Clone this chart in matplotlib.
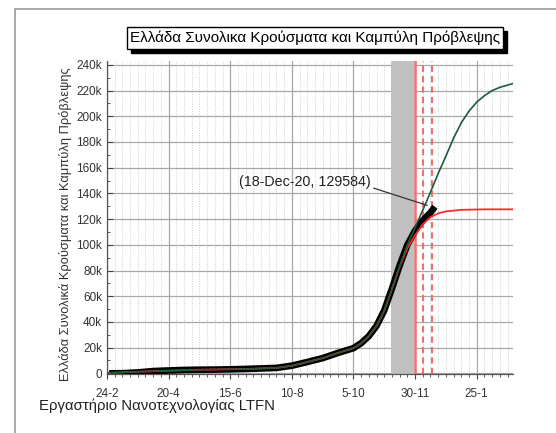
import numpy as np
import pandas as pd
import matplotlib
matplotlib.use("Agg")
import matplotlib.pyplot as plt
import matplotlib.dates as mdates
from matplotlib.ticker import FixedLocator, FuncFormatter, MultipleLocator

plt.rcParams['font.family'] = ['Liberation Sans', 'DejaVu Sans']

# cumulative confirmed cases, Greece
case_dates = ["2020-02-26", "2020-03-09", "2020-03-23", "2020-04-06", "2020-04-20",
              "2020-05-04", "2020-05-18", "2020-06-01", "2020-06-15", "2020-06-29",
              "2020-07-13", "2020-07-27", "2020-08-10", "2020-08-24", "2020-09-07",
              "2020-09-21", "2020-10-05", "2020-10-12", "2020-10-19", "2020-10-26",
              "2020-11-02", "2020-11-09", "2020-11-16", "2020-11-23", "2020-11-30",
              "2020-12-07", "2020-12-14", "2020-12-18"]
cases = [1, 84, 695, 1755, 2245,
         2626, 2834, 2918, 3121, 3409,
         3803, 4227, 5942, 8819, 11832,
         15928, 19613, 23500, 29000, 37000,
         49000, 66000, 84000, 100000, 111000,
         119000, 125000, 129584]

# saturating fit
fit1_dates = ["2020-02-24", "2020-04-06", "2020-05-18", "2020-06-29", "2020-07-27",
              "2020-08-10", "2020-08-24", "2020-09-07", "2020-09-21", "2020-10-05",
              "2020-10-12", "2020-10-19", "2020-10-26", "2020-11-02", "2020-11-09",
              "2020-11-16", "2020-11-23", "2020-11-30", "2020-12-07", "2020-12-14",
              "2020-12-21", "2020-12-28", "2021-01-11", "2021-02-01", "2021-02-27"]
fit1 = [300, 1700, 2800, 3400, 4200,
        5900, 8800, 11800, 15900, 19600,
        23400, 28900, 36800, 48800, 65500,
        83000, 97500, 107500, 116000, 121500,
        124500, 126000, 127200, 127600, 127600]

# second forecast curve
fit2_dates = ["2020-02-24", "2020-04-06", "2020-05-18", "2020-06-29", "2020-07-27",
              "2020-08-10", "2020-08-24", "2020-09-07", "2020-09-21", "2020-10-05",
              "2020-10-12", "2020-10-19", "2020-10-26", "2020-11-02", "2020-11-09",
              "2020-11-16", "2020-11-23", "2020-11-30", "2020-12-07", "2020-12-14",
              "2020-12-21", "2020-12-28", "2021-01-04", "2021-01-11", "2021-01-18",
              "2021-01-25", "2021-02-01", "2021-02-08", "2021-02-15", "2021-02-27"]
fit2 = [300, 1700, 2800, 3400, 4200,
        5900, 8800, 11800, 15900, 19600,
        23400, 28900, 36800, 48800, 65500,
        83500, 100000, 113500, 127000, 141000,
        155500, 169000, 183000, 195000, 204000,
        211000, 216000, 220000, 222500, 225500]

lockdown = ("2020-11-08", "2020-11-29")
lockdown_end = "2020-11-30"
extensions = ["2020-12-07", "2020-12-15"]

title = "Ελλάδα Συνολικα Κρούσματα και Καμπύλη Πρόβλεψης"
ylabel = "Ελλάδα Συνολικά Κρούσματα και Καμπύλη Πρόβλεψης"
footer = "Εργαστήριο Νανοτεχνολογίας LTFN"

fig = plt.figure(figsize=(5.56, 4.33), dpi=100)
ax = fig.add_axes([0.1924, 0.1363, 0.7303, 0.7228])

d = lambda s: mdates.date2num(pd.to_datetime(s))

ax.axvspan(d(lockdown[0]), d(lockdown[1]), color='#c0c0c0', lw=0, zorder=1)
ax.axvline(d(lockdown_end), color='#f07070', lw=1.8, zorder=2)
for e in extensions:
    ax.axvline(d(e), color='#f07070', lw=1.5, ls=(0, (3, 2)), zorder=2)

ax.plot(d(case_dates), cases, color='black', lw=4.8, solid_capstyle='butt', zorder=3)
ax.plot(d(fit1_dates), fit1, color='#ff2a2a', lw=1.3, zorder=4)
ax.plot(d(fit2_dates), fit2, color='#1e5a3c', lw=1.2, zorder=5)

ax.annotate("(18-Dec-20, 129584)", xy=(d("2020-12-11"), 130700),
            xytext=(d("2020-08-22"), 148600), ha='center', va='center',
            fontsize=10.3, color='#222222',
            arrowprops=dict(arrowstyle='-', color='#333333', lw=0.9,
                            shrinkA=0, shrinkB=0, relpos=(1.0, 0.15)))

# axes limits and ticks
x0 = pd.Timestamp("2020-02-24")
ax.set_xlim(d("2020-02-24"), d("2021-02-27"))
ax.set_ylim(-500, 243000)
major = pd.date_range(x0, "2021-02-27", freq="56D")
minor = pd.date_range(x0, "2021-02-27", freq="7D")
ax.xaxis.set_major_locator(FixedLocator(mdates.date2num(major)))
ax.xaxis.set_minor_locator(FixedLocator(mdates.date2num(minor)))
ax.xaxis.set_major_formatter(FuncFormatter(
    lambda v, p: "%d-%d" % (mdates.num2date(v).day, mdates.num2date(v).month)))
ax.yaxis.set_major_locator(MultipleLocator(20000))
ax.yaxis.set_minor_locator(MultipleLocator(10000))
ax.yaxis.set_major_formatter(FuncFormatter(
    lambda v, p: "0" if v == 0 else "%dk" % round(v / 1000)))

ax.tick_params(axis='x', which='major', direction='out', length=3.5, width=0.8,
               pad=6.5, labelsize=8.5, colors='#444444', labelcolor='#333333')
ax.tick_params(axis='x', which='minor', direction='out', length=2, width=0.6,
               colors='#444444')
ax.tick_params(axis='y', which='major', direction='in', length=4, width=0.8,
               pad=3.5, labelsize=8.5, colors='#444444', labelcolor='#333333')
ax.tick_params(axis='y', which='minor', direction='in', length=2.5, width=0.6,
               colors='#444444')

ax.grid(which='major', color='#a8a8a8', lw=0.9, zorder=0)
ax.grid(which='minor', axis='x', color='#cfcfcf', lw=0.7, ls=(0, (1, 1.5)), zorder=0)
ax.set_axisbelow(True)
for s in ('top', 'right'):
    ax.spines[s].set_visible(False)
for s in ('left', 'bottom'):
    ax.spines[s].set_color('#555555')
    ax.spines[s].set_linewidth(0.9)

fig.text(66 / 556, 1 - 224 / 433, ylabel, rotation=90, ha='center', va='center',
         fontsize=9.3, color='#333333')
fig.text(39 / 556, 1 - 406 / 433, footer, ha='left', va='center',
         fontsize=10.7, color='#222222')

# title box, with a drop shadow patch behind it
tx, ty = 315 / 556, 1 - 38 / 433
t = fig.text(tx, ty, title, ha='center', va='center', fontsize=11, color='black',
             zorder=5,
             bbox=dict(boxstyle='square,pad=0.22', fc='white', ec='black', lw=1))
fig.canvas.draw()
bb = t.get_bbox_patch().get_window_extent().transformed(fig.transFigure.inverted())
sx, sy = 4 / 556, 4 / 433
fig.add_artist(plt.Rectangle((bb.x0 + sx, bb.y0 - sy), bb.width, bb.height,
                             transform=fig.transFigure, fc='black', ec='black',
                             zorder=4))

# outer frame
frame = plt.Rectangle((15 / 556, -0.1), 1.2, 1 - 9 / 433 + 0.1, transform=fig.transFigure,
                      fill=False, ec='#9a9a9a', lw=1.2)
fig.add_artist(frame)

fig.savefig("out.png", dpi=100)
